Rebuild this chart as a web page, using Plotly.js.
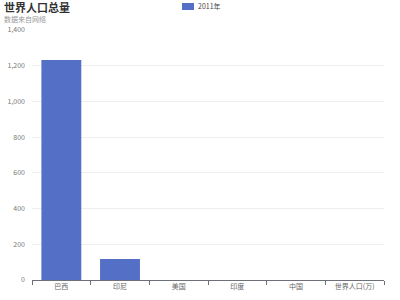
<!DOCTYPE html>
<html>
<head>
<meta charset="utf-8">
<script src="https://cdn.plot.ly/plotly-3.0.1.min.js"></script>
<style>html,body{margin:0;padding:0;background:#fff;}#chart{width:400px;height:300px;}</style>
</head>
<body>
<div id="chart"></div>
<script>
const categories = ['巴西', '印尼', '美国', '印度', '中国', '世界人口(万)'];
const values2011 = [1232, 118, 0, 0, 0, 0];
const seriesName = '2011年';
const chartTitle = '世界人口总量';
const chartSubtitle = '数据来自网络';
const yTicks = [0, 200, 400, 600, 800, 1000, 1200, 1400];

const font = '"Noto Sans CJK SC", "Noto Sans", sans-serif';
const L = 32, T = 30, PW = 352, PH = 250;
const px = x => (x - L) / PW;
const py = y => (T + PH - y) / PH;
const barColor = '#5470c6';

Plotly.newPlot('chart', [{
  type: 'bar',
  name: seriesName,
  x: categories,
  y: values2011,
  marker: {color: barColor, line: {width: 0}},
  hoverinfo: 'none',
  showlegend: false
}], {
  width: 400, height: 300,
  margin: {l: L, r: 400 - L - PW, t: T, b: 300 - T - PH, pad: 0},
  paper_bgcolor: '#fff', plot_bgcolor: '#fff',
  font: {family: font, color: '#6e7079', size: 8},
  bargap: 0.32,
  showlegend: false,
  shapes: [{
    type: 'rect', xref: 'paper', yref: 'paper',
    x0: px(182), x1: px(194), y0: py(10), y1: py(3),
    fillcolor: barColor, line: {width: 0}
  }],
  annotations: [{
    text: '<b>' + chartTitle + '</b>', xref: 'paper', yref: 'paper',
    x: px(2), y: py(7.5), xanchor: 'left', yanchor: 'middle',
    showarrow: false, font: {family: font, size: 11, color: '#333'}
  }, {
    text: chartSubtitle, xref: 'paper', yref: 'paper',
    x: px(2), y: py(19.5), xanchor: 'left', yanchor: 'middle',
    showarrow: false, font: {family: font, size: 7, color: '#999'}
  }, {
    text: seriesName, xref: 'paper', yref: 'paper',
    x: px(196), y: py(6.5), xanchor: 'left', yanchor: 'middle',
    showarrow: false, font: {family: font, size: 7, color: '#444'}
  }],
  xaxis: {
    type: 'category',
    showline: true, linecolor: '#6e7079', linewidth: 1,
    ticks: 'outside', ticklen: 4, tickcolor: '#6e7079',
    tickson: 'boundaries',
    showgrid: false, zeroline: false,
    tickfont: {family: font, size: 7, color: '#666'},
    fixedrange: true
  },
  yaxis: {
    range: [0, 1400], tickvals: yTicks, tickformat: ',',
    showgrid: true, gridcolor: '#eeeeee', gridwidth: 1,
    zeroline: false, showline: false, ticks: '',
    ticklabelstandoff: 6,
    tickfont: {family: font, size: 7, color: '#777'},
    fixedrange: true
  }
}, {displayModeBar: false, staticPlot: true});
</script>
</body>
</html>
